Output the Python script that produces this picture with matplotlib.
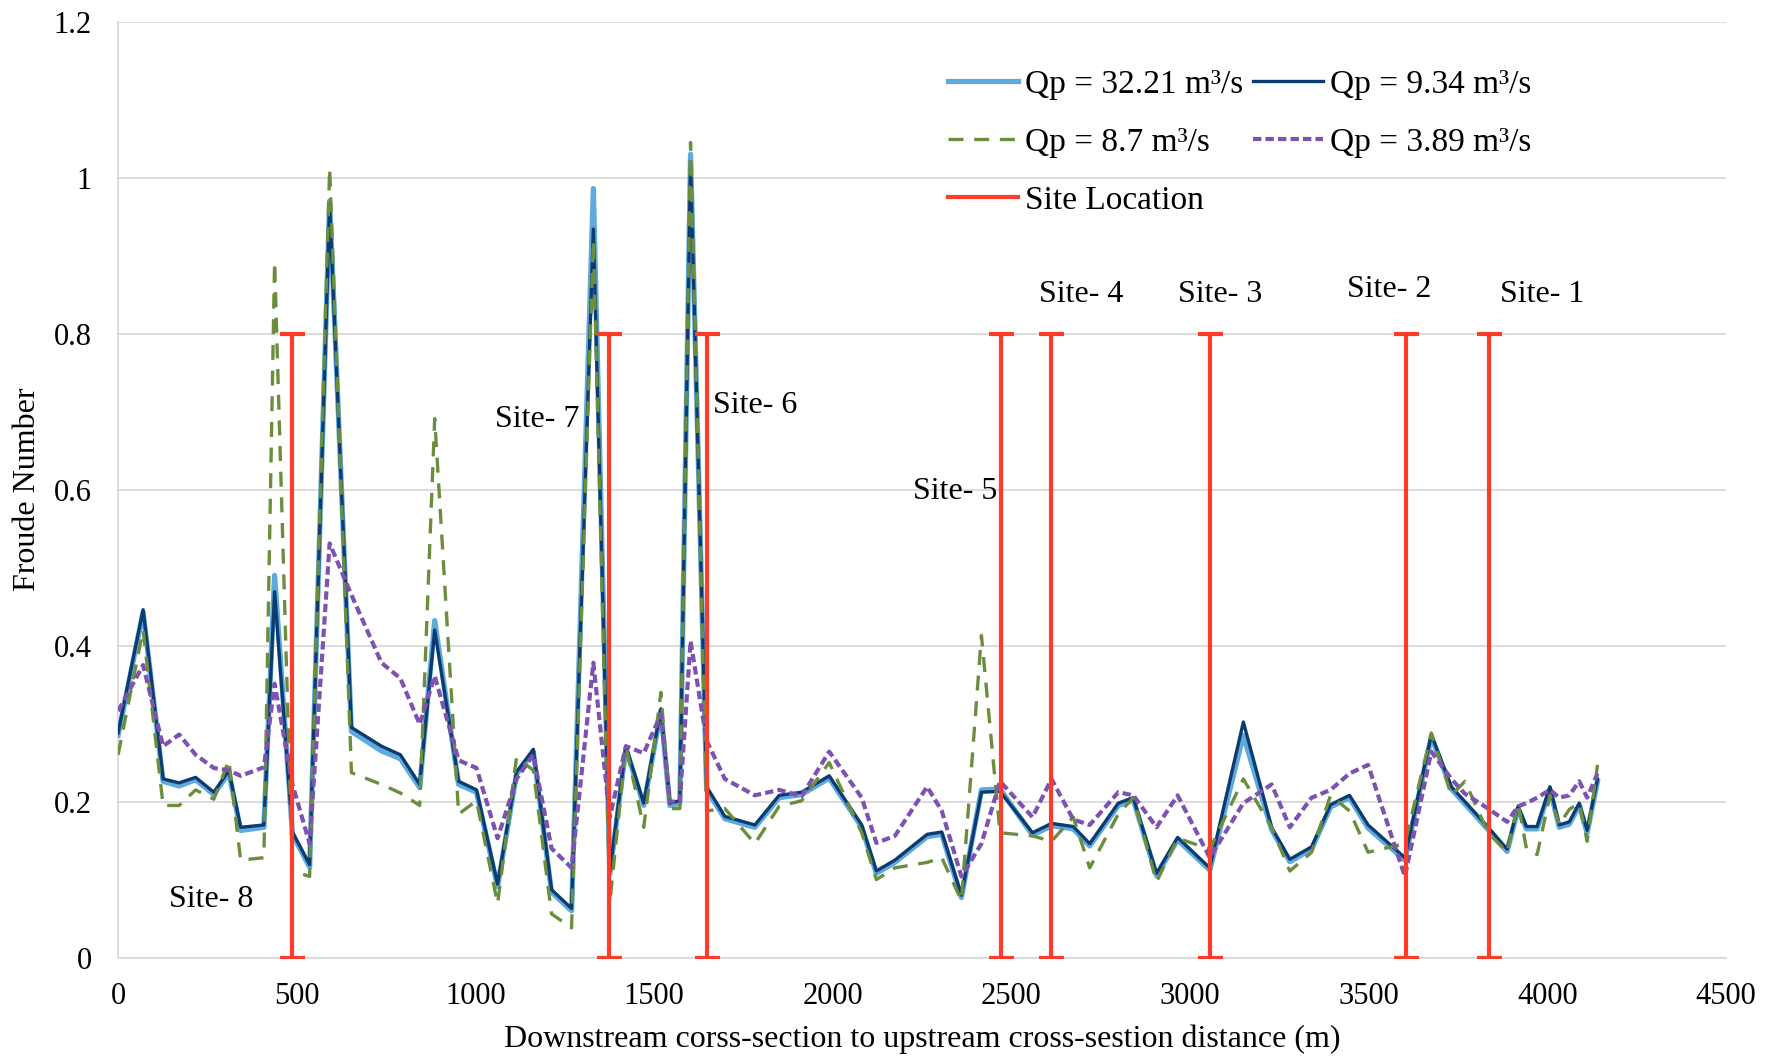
import matplotlib
matplotlib.use("Agg")
import matplotlib.pyplot as plt
from matplotlib.lines import Line2D

plt.rcParams['font.family'] = ['Liberation Serif', 'DejaVu Serif']

# ---------------- data ----------------
distance = [0, 70, 126, 171, 217, 268, 310, 343, 408, 438, 488, 536, 592, 653, 737, 790, 844, 886,
            953, 1003, 1062, 1115, 1162, 1213, 1269, 1330, 1376, 1421, 1471, 1519, 1544, 1572, 1602,
            1647, 1698, 1782, 1850, 1913, 1990, 2081, 2122, 2174, 2264, 2305, 2360, 2416, 2468, 2559,
            2612, 2673, 2719, 2799, 2841, 2906, 2965, 3055, 3149, 3228, 3279, 3340, 3393, 3446, 3498,
            3601, 3675, 3731, 3769, 3834, 3887, 3918, 3941, 3971, 4007, 4033, 4061, 4089, 4111, 4140]

fr_3221 = [0.285, 0.443, 0.226, 0.220, 0.228, 0.209, 0.237, 0.163, 0.167, 0.490, 0.158, 0.116, 0.970,
           0.290, 0.265, 0.255, 0.218, 0.432, 0.222, 0.212, 0.091, 0.235, 0.264, 0.084, 0.060, 0.986,
           0.107, 0.268, 0.195, 0.316, 0.195, 0.198, 1.030, 0.215, 0.178, 0.167, 0.205, 0.209, 0.230,
           0.167, 0.108, 0.122, 0.155, 0.158, 0.077, 0.215, 0.216, 0.157, 0.169, 0.165, 0.143, 0.195,
           0.202, 0.105, 0.151, 0.112, 0.285, 0.164, 0.123, 0.139, 0.193, 0.205, 0.166, 0.125, 0.283,
           0.216, 0.197, 0.164, 0.136, 0.191, 0.165, 0.165, 0.216, 0.167, 0.171, 0.195, 0.160, 0.226]

fr_934 = [0.288, 0.446, 0.229, 0.224, 0.231, 0.212, 0.240, 0.167, 0.170, 0.469, 0.161, 0.119, 0.965,
          0.295, 0.271, 0.260, 0.222, 0.420, 0.226, 0.215, 0.094, 0.238, 0.267, 0.087, 0.063, 0.934,
          0.110, 0.271, 0.198, 0.319, 0.198, 0.201, 1.020, 0.219, 0.181, 0.170, 0.208, 0.212, 0.233,
          0.170, 0.111, 0.125, 0.158, 0.161, 0.080, 0.212, 0.213, 0.160, 0.172, 0.168, 0.146, 0.198,
          0.205, 0.108, 0.154, 0.115, 0.302, 0.167, 0.126, 0.142, 0.196, 0.208, 0.170, 0.128, 0.286,
          0.219, 0.200, 0.167, 0.139, 0.194, 0.168, 0.168, 0.219, 0.170, 0.174, 0.198, 0.163, 0.229]

fr_87 = [0.260, 0.420, 0.195, 0.195, 0.215, 0.203, 0.253, 0.125, 0.128, 0.892, 0.111, 0.104, 1.012,
         0.237, 0.222, 0.211, 0.195, 0.691, 0.184, 0.201, 0.069, 0.257, 0.240, 0.056, 0.038, 0.920,
         0.070, 0.271, 0.167, 0.340, 0.191, 0.191, 1.045, 0.188, 0.191, 0.146, 0.194, 0.201, 0.250,
         0.160, 0.100, 0.115, 0.122, 0.128, 0.073, 0.413, 0.160, 0.156, 0.149, 0.180, 0.115, 0.184,
         0.205, 0.097, 0.153, 0.139, 0.229, 0.167, 0.111, 0.135, 0.208, 0.188, 0.135, 0.146, 0.288,
         0.208, 0.226, 0.160, 0.135, 0.198, 0.140, 0.132, 0.208, 0.170, 0.190, 0.198, 0.149, 0.247]

fr_389 = [0.316, 0.375, 0.271, 0.286, 0.260, 0.243, 0.240, 0.233, 0.244, 0.351, 0.222, 0.146, 0.531,
          0.465, 0.378, 0.358, 0.299, 0.361, 0.253, 0.243, 0.153, 0.229, 0.260, 0.140, 0.115, 0.378,
          0.180, 0.271, 0.262, 0.312, 0.200, 0.200, 0.406, 0.278, 0.229, 0.208, 0.215, 0.207, 0.264,
          0.205, 0.147, 0.156, 0.219, 0.188, 0.104, 0.146, 0.226, 0.180, 0.229, 0.177, 0.170, 0.212,
          0.208, 0.167, 0.208, 0.128, 0.198, 0.222, 0.167, 0.205, 0.215, 0.236, 0.247, 0.104, 0.264,
          0.229, 0.210, 0.191, 0.174, 0.194, 0.198, 0.205, 0.215, 0.205, 0.208, 0.226, 0.205, 0.236]

site_names = ["Site- 8", "Site- 7", "Site- 6", "Site- 5", "Site- 4", "Site- 3", "Site- 2", "Site- 1"]
site_x = [486, 1374, 1647, 2472, 2610, 3055, 3603, 3836]
site_top = 0.8

series_labels = ["Qp = 32.21 m\u00b3/s", "Qp = 9.34 m\u00b3/s", "Qp = 8.7 m\u00b3/s", "Qp = 3.89 m\u00b3/s"]

# label anchor positions (layout)
label_pos = [(261, 0.075), (1173, 0.69), (1783, 0.708), (2342, 0.598),
             (2695, 0.85), (3085, 0.85), (3556, 0.856), (3985, 0.85)]

# ---------------- styling ----------------
c_light = '#5FAADC'
c_dark = '#0B3B70'
c_green = '#6B8E3E'
c_purple = '#7E52B0'
c_red = '#FF3B2A'
grid_c = '#D9D9D9'
FS_TICK = 22
FS_LAB = 23
FS_LEG = 24
FS_SITE = 23

fig = plt.figure(figsize=(17.81, 10.61), dpi=100)
ax = fig.add_axes([0.0663, 0.0975, 0.9029, 0.8821])

l1, = ax.plot(distance, fr_3221, color=c_light, lw=3.8, zorder=3)
l2, = ax.plot(distance, fr_934, color=c_dark, lw=2.4, zorder=4)
l3, = ax.plot(distance, fr_87, color=c_green, lw=2.4, dashes=(4.5, 3.2), zorder=5)
l4, = ax.plot(distance, fr_389, color=c_purple, lw=3.0, dashes=(2.0, 1.0), zorder=6)

ax.errorbar(site_x, [site_top / 2] * len(site_x), yerr=site_top / 2, fmt='none',
            ecolor=c_red, elinewidth=3.0, capsize=9, capthick=3.0, zorder=7)

for name, (tx, ty) in zip(site_names, label_pos):
    ax.text(tx, ty, name, ha='center', va='center', fontsize=FS_SITE, zorder=8)

ax.set_xlim(0, 4500)
ax.set_ylim(0, 1.2)
ax.set_xticks(range(0, 4501, 500))
yt = [0, 0.2, 0.4, 0.6, 0.8, 1.0, 1.2]
ax.set_yticks(yt)
ax.set_yticklabels(["0", "0.2", "0.4", "0.6", "0.8", "1", "1.2"])
ax.tick_params(axis='both', length=0, labelsize=FS_TICK)
ax.tick_params(axis='x', pad=17.5)
ax.tick_params(axis='y', pad=19)
ax.grid(axis='y', color=grid_c, lw=1.3)
ax.set_axisbelow(True)
for s in ['top', 'right']:
    ax.spines[s].set_visible(False)
ax.spines['left'].set_color(grid_c)
ax.spines['bottom'].set_color(grid_c)
ax.spines['left'].set_linewidth(1.3)
ax.spines['bottom'].set_linewidth(1.3)

ax.set_xlabel("Downstream corss-section to upstream cross-sestion distance (m)", fontsize=FS_LAB)
ax.set_ylabel("Froude Number", fontsize=FS_LAB)
ax.xaxis.label.set_va('center')
ax.yaxis.label.set_va('center')
ax.xaxis.set_label_coords(0.5, -0.087)
ax.yaxis.set_label_coords(-0.0565, 0.5)

red_handle = Line2D([0], [0], color=c_red, lw=3.0)
handles = [l1, l3, red_handle, l2, l4]
labels = [series_labels[0], series_labels[2], "Site Location", series_labels[1], series_labels[3]]
fig.legend(handles, labels, loc='upper left', bbox_to_anchor=(0.5325, 0.9345), ncol=2, frameon=False,
           fontsize=FS_LEG, handlelength=2.1, handletextpad=0.2, columnspacing=0.3,
           labelspacing=0.82, borderpad=0, borderaxespad=0)

fig.savefig("out.png", dpi=100)
